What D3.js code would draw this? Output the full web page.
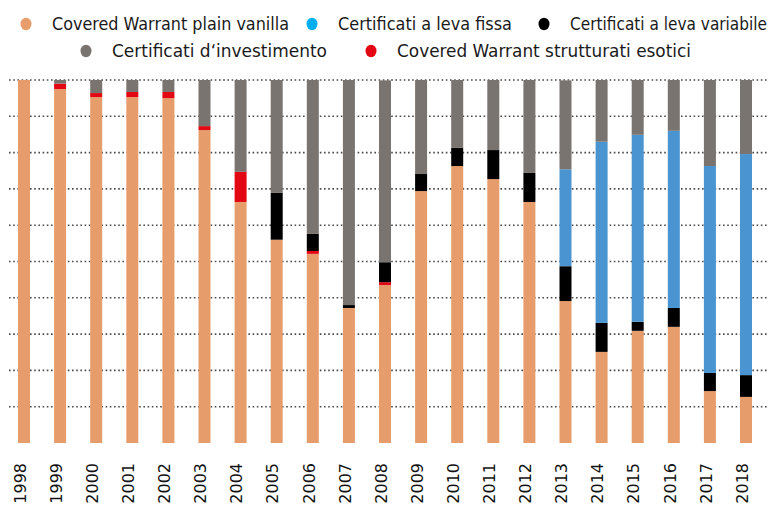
<!DOCTYPE html>
<html>
<head>
<meta charset="utf-8">
<script src="https://cdn.jsdelivr.net/npm/d3@7"></script>
<style>
  body { margin: 0; background: #fff; }
  .legend text { font-family: "Liberation Sans Narrow", "DejaVu Sans Condensed", sans-serif; font-size: 17.5px; fill: #1a1a1a; }
  .xlab { font-family: "DejaVu Sans", sans-serif; font-size: 16px; fill: #111; }
</style>
</head>
<body>
<div id="chart"></div>
<script>
// years on the x axis
var years = ["1998","1999","2000","2001","2002","2003","2004","2005","2006","2007","2008",
  "2009","2010","2011","2012","2013","2014","2015","2016","2017","2018"];

// share of each product type (%)
var plainVanilla = [100, 97.5, 95.3, 95.3, 95, 86.2, 66.4, 56, 52.1, 37.2, 43.5, 69.4, 76.3, 72.7, 66.4, 39.1, 25.1, 30.9, 32, 14.3, 12.7];
var esotici      = [0, 1.5, 1.1, 1.4, 1.7, 1.1, 8.3, 0, 0.8, 0, 0.8, 0, 0, 0, 0, 0, 0, 0, 0, 0, 0];
var levaVariabile = [0, 0, 0, 0, 0, 0, 0, 12.9, 4.7, 0.8, 5.5, 4.7, 5, 8, 8, 9.6, 8, 2.5, 5.2, 5, 6];
var levaFissa    = [0, 0, 0, 0, 0, 0, 0, 0, 0, 0, 0, 0, 0, 0, 0, 26.7, 49.9, 51.5, 48.8, 57, 60.9];
var investimento = [0, 1, 3.6, 3.3, 3.3, 12.7, 25.3, 31.1, 42.4, 62, 50.1, 25.9, 18.7, 19.3, 25.6, 24.5, 17, 15.1, 14, 23.7, 20.4];

var gridTicks = [10, 20, 30, 40, 50, 60, 70, 80, 90, 100];

// stack order bottom -> top
var keys = ["plainVanilla", "esotici", "levaVariabile", "levaFissa", "investimento"];
var barColor = {
  plainVanilla: "#e79d6b",
  esotici: "#e30613",
  levaVariabile: "#000000",
  levaFissa: "#4a95d1",
  investimento: "#7a7470"
};

// legend entries (legend dot colours differ a bit from bars, like the original)
var legendItems = [
  {label: "Covered Warrant plain vanilla", color: "#e89e6c", x: 26, y: 24, w: 237},
  {label: "Certificati a leva fissa", color: "#00aeef", x: 312, y: 24, w: 174},
  {label: "Certificati a leva variabile", color: "#000000", x: 544, y: 24, w: 197},
  {label: "Certificati d\u2018investimento", color: "#7a7470", x: 86, y: 51, w: 215},
  {label: "Covered Warrant strutturati esotici", color: "#e30613", x: 371, y: 51, w: 294}
];

var rows = years.map(function(y, i) {
  return {
    year: y,
    plainVanilla: plainVanilla[i],
    esotici: esotici[i],
    levaVariabile: levaVariabile[i],
    levaFissa: levaFissa[i],
    investimento: investimento[i]
  };
});

var W = 774, H = 509;
var svg = d3.select("#chart").append("svg")
  .attr("width", W)
  .attr("height", H);

var x = d3.scalePoint()
  .domain(years)
  .range([24, 746]);

var y = d3.scaleLinear()
  .domain([0, 100])
  .range([443, 80]);

var barW = 12;

// dotted grid lines
svg.append("g")
  .selectAll("line")
  .data(gridTicks)
  .enter().append("line")
    .attr("x1", 9)
    .attr("x2", 769)
    .attr("y1", function(d) { return y(d); })
    .attr("y2", function(d) { return y(d); })
    .attr("stroke", "#4a4a4a")
    .attr("stroke-width", 1.6)
    .attr("stroke-dasharray", "1.6,2.6");

var stacked = d3.stack().keys(keys)(rows);

svg.append("g")
  .selectAll("g")
  .data(stacked)
  .enter().append("g")
    .attr("fill", function(d) { return barColor[d.key]; })
    .selectAll("rect")
    .data(function(d) { return d; })
    .enter().append("rect")
      .attr("x", function(d) { return x(d.data.year) - barW / 2; })
      .attr("y", function(d) { return y(d[1]); })
      .attr("height", function(d) { return y(d[0]) - y(d[1]); })
      .attr("width", barW);

// x labels, rotated
svg.append("g")
  .selectAll("text")
  .data(years)
  .enter().append("text")
    .attr("class", "xlab")
    .attr("transform", function(d) { return "translate(" + (x(d) - 4) + ",463)rotate(-90)"; })
    .attr("dy", "0.36em")
    .style("text-anchor", "end")
    .text(function(d) { return d; });

// legend
var lg = svg.append("g").attr("class", "legend");
var item = lg.selectAll("g")
  .data(legendItems)
  .enter().append("g")
    .attr("transform", function(d) { return "translate(" + d.x + "," + d.y + ")"; });

item.append("ellipse")
  .attr("rx", 5.5)
  .attr("ry", 6.2)
  .attr("fill", function(d) { return d.color; });

item.append("text")
  .attr("x", 26)
  .attr("dy", "0.35em")
  .attr("textLength", function(d) { return d.w; })
  .attr("lengthAdjust", "spacingAndGlyphs")
  .text(function(d) { return d.label; });
</script>
</body>
</html>
